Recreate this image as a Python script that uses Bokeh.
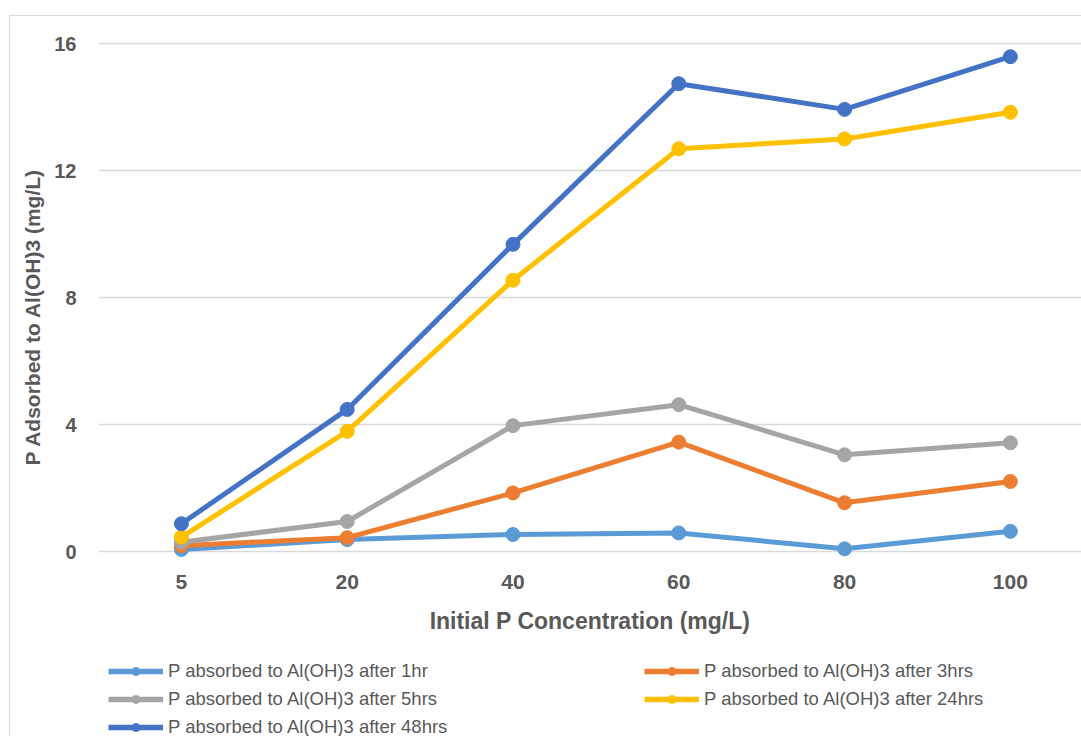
from bokeh.plotting import figure
from bokeh.models import Range1d, FixedTicker, Legend, LegendItem, Title
from bokeh.layouts import column
from bokeh.embed import file_html
from bokeh.resources import INLINE

# ---- data ----
categories = ["5", "20", "40", "60", "80", "100"]
after_1hr = [0.08, 0.39, 0.55, 0.60, 0.10, 0.65]
after_3hrs = [0.20, 0.45, 1.86, 3.46, 1.55, 2.22]
after_5hrs = [0.31, 0.96, 3.98, 4.64, 3.06, 3.44]
after_24hrs = [0.47, 3.80, 8.56, 12.70, 13.01, 13.85]
after_48hrs = [0.89, 4.49, 9.69, 14.75, 13.94, 15.60]
series_names = [
    "P absorbed to Al(OH)3 after 1hr",
    "P absorbed to Al(OH)3 after 3hrs",
    "P absorbed to Al(OH)3 after 5hrs",
    "P absorbed to Al(OH)3 after 24hrs",
    "P absorbed to Al(OH)3 after 48hrs",
]
series_values = [after_1hr, after_3hrs, after_5hrs, after_24hrs, after_48hrs]
colors = ["#5B9BD5", "#ED7D31", "#A5A5A5", "#FFC000", "#4472C4"]
y_ticks = [0, 4, 8, 12, 16]
x_title = "Initial P Concentration (mg/L)"
y_title = "P Adsorbed to Al(OH)3 (mg/L)"

FONT = "Liberation Sans"
TXT = "#595959"

x_idx = list(range(len(categories)))

# ---- main chart ----
p = figure(
    width=1071, height=640,
    output_backend="svg", toolbar_location=None,
    x_range=Range1d(-0.5, 5.429), y_range=Range1d(-0.709, 16.488),
    min_border_left=88, min_border_top=12, min_border_right=0, min_border_bottom=82,
    outline_line_color=None, background_fill_color="white", border_fill_color="white",
)

xa = p.xaxis[0]
xa.ticker = FixedTicker(ticks=x_idx)
xa.major_label_overrides = {i: c for i, c in zip(x_idx, categories)}
xa.axis_line_color = None
xa.major_tick_line_color = None
xa.minor_tick_line_color = None
xa.major_tick_out = 0
xa.major_tick_in = 0
xa.major_label_standoff = 0
xa.major_label_text_font = FONT
xa.major_label_text_font_style = "bold"
xa.major_label_text_font_size = "21px"
xa.major_label_text_color = TXT
xa.axis_label = x_title
xa.axis_label_text_font = FONT
xa.axis_label_text_font_style = "bold"
xa.axis_label_text_font_size = "23px"
xa.axis_label_text_color = TXT
xa.axis_label_standoff = 16

ya = p.yaxis[0]
ya.ticker = FixedTicker(ticks=y_ticks)
ya.axis_line_color = None
ya.major_tick_line_color = None
ya.minor_tick_line_color = None
ya.major_tick_out = 0
ya.major_tick_in = 0
ya.major_label_standoff = 22
ya.major_label_text_font = FONT
ya.major_label_text_font_style = "bold"
ya.major_label_text_font_size = "20px"
ya.major_label_text_color = TXT

ytitle = Title(text=y_title, align="left", offset=109, standoff=16,
               text_font=FONT, text_font_style="bold", text_font_size="21px",
               text_color=TXT)
p.add_layout(ytitle, "left")

p.xgrid.grid_line_color = None
p.ygrid.grid_line_color = "#D9D9D9"
p.ygrid.grid_line_width = 1.3

for name, vals, col in zip(series_names, series_values, colors):
    p.line(x_idx, vals, line_color=col, line_width=5)
    p.scatter(x_idx, vals, size=14, fill_color=col, line_color=col)

# ---- legend strip (same series, out of view; only the legend shows) ----
lg = figure(
    width=1071, height=80,
    output_backend="svg", toolbar_location=None,
    x_range=Range1d(0, 1), y_range=Range1d(100, 101),
    x_axis_location=None, y_axis_location=None,
    min_border_left=0, min_border_top=0, min_border_right=0, min_border_bottom=0,
    outline_line_color=None, background_fill_color="white", border_fill_color="white",
)
lg.xgrid.grid_line_color = None
lg.ygrid.grid_line_color = None

items = []
for name, vals, col in zip(series_names, series_values, colors):
    r1 = lg.line(x_idx, vals, line_color=col, line_width=5.5)
    r2 = lg.scatter(x_idx, vals, size=11, fill_color=col, line_color=col)
    items.append(LegendItem(label=name, renderers=[r1, r2]))

legend = Legend(
    items=items, location=(10, -2), orientation="horizontal", ncols=2,
    border_line_color=None, background_fill_alpha=0, padding=0, margin=0,
    label_text_font=FONT, label_text_font_size="18.5px", label_text_color=TXT,
    glyph_width=55, glyph_height=20, label_height=20, label_standoff=5,
    spacing=6, label_width=470, click_policy="none",
)
lg.add_layout(legend)

page = column(p, lg, spacing=0)
page.styles = {"border-left": "1px solid #D9D9D9", "border-top": "1px solid #D9D9D9",
               "margin-top": "15px", "margin-left": "9px"}

open("out.html", "w").write(file_html(page, INLINE))
